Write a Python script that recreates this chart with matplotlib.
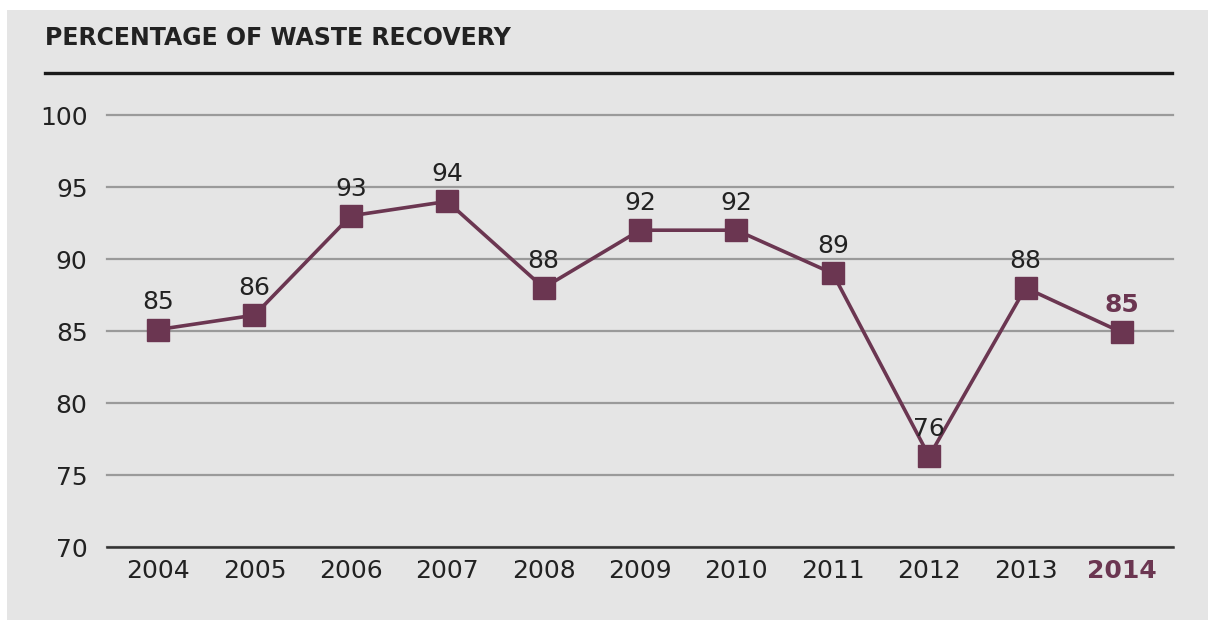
import matplotlib.pyplot as plt
from matplotlib.patches import Rectangle
from matplotlib.lines import Line2D

years = ['2004', '2005', '2006', '2007', '2008', '2009', '2010', '2011', '2012', '2013', '2014']
recovery = [85.1, 86.1, 93, 94, 88, 92, 92, 89, 76.3, 88, 84.9]
y_ticks = [70, 75, 80, 85, 90, 95, 100]

purple = '#6b3651'
text_col = '#222222'

plt.rcParams['font.family'] = ['DejaVu Sans']

fig = plt.figure(figsize=(12.08, 6.21), dpi=100)
fig.patch.set_facecolor('white')
fig.add_artist(Rectangle((7 / 1208, 1 / 621), 1, 610 / 621, transform=fig.transFigure,
                         facecolor='#e5e5e5', edgecolor='none', zorder=-10))

ax = fig.add_axes([107 / 1208, 1 - 547 / 621, 1066 / 1208, 432 / 621])
ax.set_facecolor('none')
ax.set_zorder(5)

x = list(range(len(years)))
ax.plot(x, recovery, color=purple, lw=2.6, marker='s', markersize=15.5,
        markerfacecolor=purple, markeredgecolor=purple, clip_on=False, zorder=3)

for i, v in enumerate(recovery):
    last = i == len(recovery) - 1
    ax.annotate(f'{round(v)}', (i, v), xytext=(0, 11), textcoords='offset points',
                ha='center', va='bottom', fontsize=18,
                color=purple if last else text_col,
                fontweight='bold' if last else 'normal')

ax.set_xlim(-0.53, len(years) - 0.47)
ax.set_ylim(70, 100)
ax.set_yticks(y_ticks)
ax.set_yticklabels([str(t) for t in y_ticks], fontsize=18, color=text_col)
ax.set_xticks(x)
ax.set_xticklabels(years, fontsize=18, color=text_col)
ax.get_xticklabels()[-1].set_color(purple)
ax.get_xticklabels()[-1].set_fontweight('bold')
ax.tick_params(axis='y', length=0, pad=14)
ax.tick_params(axis='x', length=0, pad=9)

ax.grid(axis='y', color='#9a9a9a', lw=1.6)
for gl in ax.get_ygridlines():
    gl.set_clip_on(False)
ax.set_axisbelow(True)
for s in ['top', 'right', 'left']:
    ax.spines[s].set_visible(False)
ax.spines['bottom'].set_color('#333333')
ax.spines['bottom'].set_linewidth(1.8)

fig.text(45 / 1208, 1 - 38 / 621, 'PERCENTAGE OF WASTE RECOVERY', fontsize=17,
         fontweight='bold', color=text_col, ha='left', va='center')
fig.add_artist(Line2D([45 / 1208, 1172 / 1208], [1 - 73 / 621] * 2,
                      transform=fig.transFigure, color='#1a1a1a', lw=2.4))

fig.savefig('out.png', dpi=100)
